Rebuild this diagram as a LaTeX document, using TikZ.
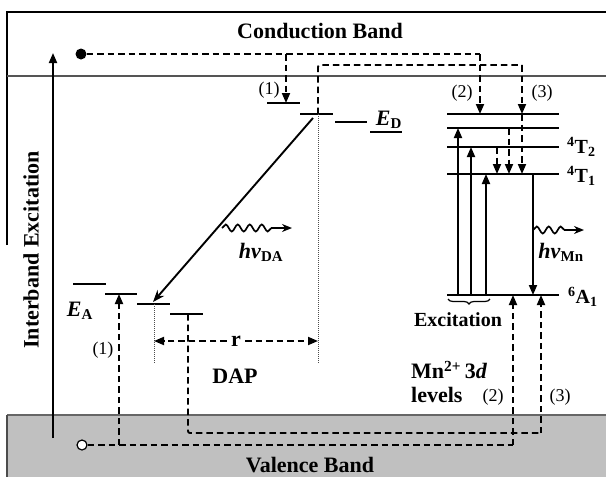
\documentclass[tikz,border=0pt]{standalone}
\usepackage{fontspec}
\setmainfont{Liberation Serif}
\usetikzlibrary{arrows.meta,decorations.pathmorphing,decorations.pathreplacing}
\definecolor{vband}{HTML}{C0C0C0}
\definecolor{bandline}{HTML}{555555}
\begin{document}
\begin{tikzpicture}[x=1pt,y=-1pt,
  lvl/.style={line width=2pt},
  dsh/.style={line width=1.9pt, dash pattern=on 6.5pt off 4pt},
  tri/.style={-{Triangle[length=10pt,width=8pt]}},
  sol/.style={line width=1.9pt},
  dott/.style={line width=0.9pt, dash pattern=on 1pt off 1pt, black!70},
  big/.style={font=\fontsize{22}{24}\selectfont\bfseries, inner sep=0pt},
  mid/.style={font=\fontsize{20}{22}\selectfont\bfseries, inner sep=0pt},
  num/.style={font=\fontsize{18}{20}\selectfont, inner sep=0pt},
  wav/.style={line width=1.7pt, -{Stealth[length=10pt,width=8pt]}, decorate,
    decoration={snake, amplitude=3.5pt, segment length=12pt, post length=16pt}}]
\useasboundingbox (0,0) rectangle (606,477);
% bands
\fill[vband] (7,415) rectangle (606,477);
\draw[line width=1.4pt, black!60] (7,415) -- (606,415);
\draw[line width=1.4pt, black!70] (7,477) -- (7,415);
\draw[line width=1.6pt] (7,245) -- (7,12) -- (606,12);
\draw[line width=1.6pt, bandline] (7,76) -- (606,76);
\node[big] (cb) at (320,31) {Conduction Band};
\node[big] (vb) at (310,465) {Valence Band};
\node[big, rotate=90] (ie) at (31,250) {Interband Excitation};
% interband arrow
\coordinate (ieb) at (53,438);
\coordinate (iet) at (53,53);
\draw[sol, tri] (ieb) -- (iet);
% carriers
\node[circle, fill, inner sep=0pt, minimum size=11pt] (dot) at (81,54) {};
\node[circle, draw, line width=1.2pt, fill=white, inner sep=0pt, minimum size=10pt] (hole) at (82,445) {};
% donor levels
\coordinate (d1w) at (267,103); \coordinate (d1e) at (300,103);
\coordinate (d2w) at (300,114); \coordinate (d2e) at (333,114);
\coordinate (d3w) at (335,122); \coordinate (d3e) at (367,122);
\coordinate (d4w) at (370,132); \coordinate (d4e) at (402,132);
\foreach \n in {d1,d2,d3,d4} \draw[lvl] (\n w) -- (\n e);
% acceptor levels
\coordinate (a1w) at (73,284);  \coordinate (a1e) at (106,284);
\coordinate (a2w) at (105,294); \coordinate (a2e) at (137,294);
\coordinate (a3w) at (137,304); \coordinate (a3e) at (170,304);
\coordinate (a4w) at (170,314); \coordinate (a4e) at (203,314);
\foreach \n in {a1,a2,a3,a4} \draw[lvl] (\n w) -- (\n e);
% Mn levels
\foreach \y/\n in {114/m1,128/m2,147/m3,174/m4,295/m6} {
  \coordinate (\n w) at (447,\y); \coordinate (\n e) at (559,\y);
  \draw[lvl] (\n w) -- (\n e);
}
% points
\coordinate (c1) at (286,54);   \coordinate (d1a) at (286,103);
\coordinate (c2) at (480,54);   \coordinate (m1a) at (480,114);
\coordinate (d2a) at (318,114); \coordinate (c3) at (318,65);
\coordinate (c4) at (522,65);   \coordinate (m1b) at (522,114);
\coordinate (m4c) at (522,174);
\coordinate (m2d) at (509,128); \coordinate (m4d) at (509,174);
\coordinate (m3e) at (497,147); \coordinate (m4e) at (497,174);
\coordinate (hv1) at (119,445); \coordinate (a2a) at (119,294);
\coordinate (hv2) at (513,445); \coordinate (m6a) at (513,295);
\coordinate (a4a) at (188,314); \coordinate (hv3) at (188,433);
\coordinate (hv4) at (541,433); \coordinate (m6b) at (541,295);
% dashed transitions
\draw[dsh] (dot.east) -- (c2);
\draw[dsh, tri] (c1) -- (d1a);
\draw[dsh, tri] (c2) -- (m1a);
\draw[dsh, rounded corners=2pt] (d2a) -- (c3) -- (c4);
\draw[dsh, tri] (c4) -- (m1b);
\draw[dsh, tri] (m1b) -- (m4c);
\draw[dsh, tri] (m2d) -- (m4d);
\draw[dsh, tri] (m3e) -- (m4e);
\draw[dsh] (hole.east) -- (hv2);
\draw[dsh, tri] (hv1) -- (a2a);
\draw[dsh, tri] (hv2) -- (m6a);
\draw[dsh, rounded corners=2pt] (a4a) -- (hv3) -- (hv4);
\draw[dsh, tri] (hv4) -- (m6b);
% dotted markers and r
\coordinate (a3a) at (154,304); \coordinate (a3b) at (154,363);
\coordinate (d2b) at (318,363);
\draw[dott] (a3a) -- (a3b);
\draw[dott] (d2a) -- (d2b);
\coordinate (rl) at (154,341); \coordinate (rr) at (318,341);
\node[big, fill=white, inner xsep=4pt, inner ysep=2pt] (r) at (236,341) {r};
\draw[dsh, tri] (r.west) -- (rl);
\draw[dsh, tri] (r.east) -- (rr);
% DAP recombination
\coordinate (ds) at (313,118); \coordinate (as) at (153,302);
\draw[sol, -{Stealth[length=12pt,width=9pt]}] (ds) -- (as);
\coordinate (w1s) at (222,228); \coordinate (w1e) at (292,228);
\draw[wav] (w1s) -- (w1e);
% Mn transitions
\coordinate (u1b) at (458,295); \coordinate (u1t) at (458,128);
\coordinate (u2b) at (471,295); \coordinate (u2t) at (471,147);
\coordinate (u3b) at (486,295); \coordinate (u3t) at (486,174);
\draw[sol, tri] (u1b) -- (u1t);
\draw[sol, tri] (u2b) -- (u2t);
\draw[sol, tri] (u3b) -- (u3t);
\coordinate (em1) at (533,174); \coordinate (em2) at (533,295);
\draw[sol, tri] (em1) -- (em2);
\coordinate (w2s) at (533,230); \coordinate (w2e) at (584,230);
\draw[wav] (w2s) -- (w2e);
\draw[line width=1.2pt, decorate, decoration={brace, mirror, amplitude=5pt}] (448,299) -- (490,299);
% labels
\node[num] (l1a) at (269,90) {(1)};
\node[num] (l1b) at (103,350) {(1)};
\node[num] (l2a) at (462,93) {(2)};
\node[num] (l3a) at (542,93) {(3)};
\node[num] (l2b) at (493,397) {(2)};
\node[num] (l3b) at (560,397) {(3)};
\node[big] (ed) at (389,120) {\textit{E}\textsubscript{\fontsize{15}{16}\selectfont D}};
\node[big] (ea) at (80,311) {\textit{E}\textsubscript{\fontsize{15}{16}\selectfont A}};
\node[big] (hda) at (261,252) {\textit{hν}\textsubscript{\fontsize{15}{16}\selectfont DA}};
\node[big] (hmn) at (561,252) {\textit{hν}\textsubscript{\fontsize{15}{16}\selectfont Mn}};
\node[big] (dap) at (235,376) {DAP};
\node[mid] (exc) at (458,320) {Excitation};
\node[big, anchor=west] (mn) at (411,370) {Mn\textsuperscript{2+}\,3\textit{d}};
\node[big, anchor=west] (lv) at (411,395) {levels};
\node[mid, anchor=west] (t2) at (567,147) {\textsuperscript{4}T\textsubscript{2}};
\node[mid, anchor=west] (t1) at (567,176) {\textsuperscript{4}T\textsubscript{1}};
\node[mid, anchor=west] (a6) at (568,297) {\textsuperscript{6}A\textsubscript{1}};
\end{tikzpicture}
\end{document}
